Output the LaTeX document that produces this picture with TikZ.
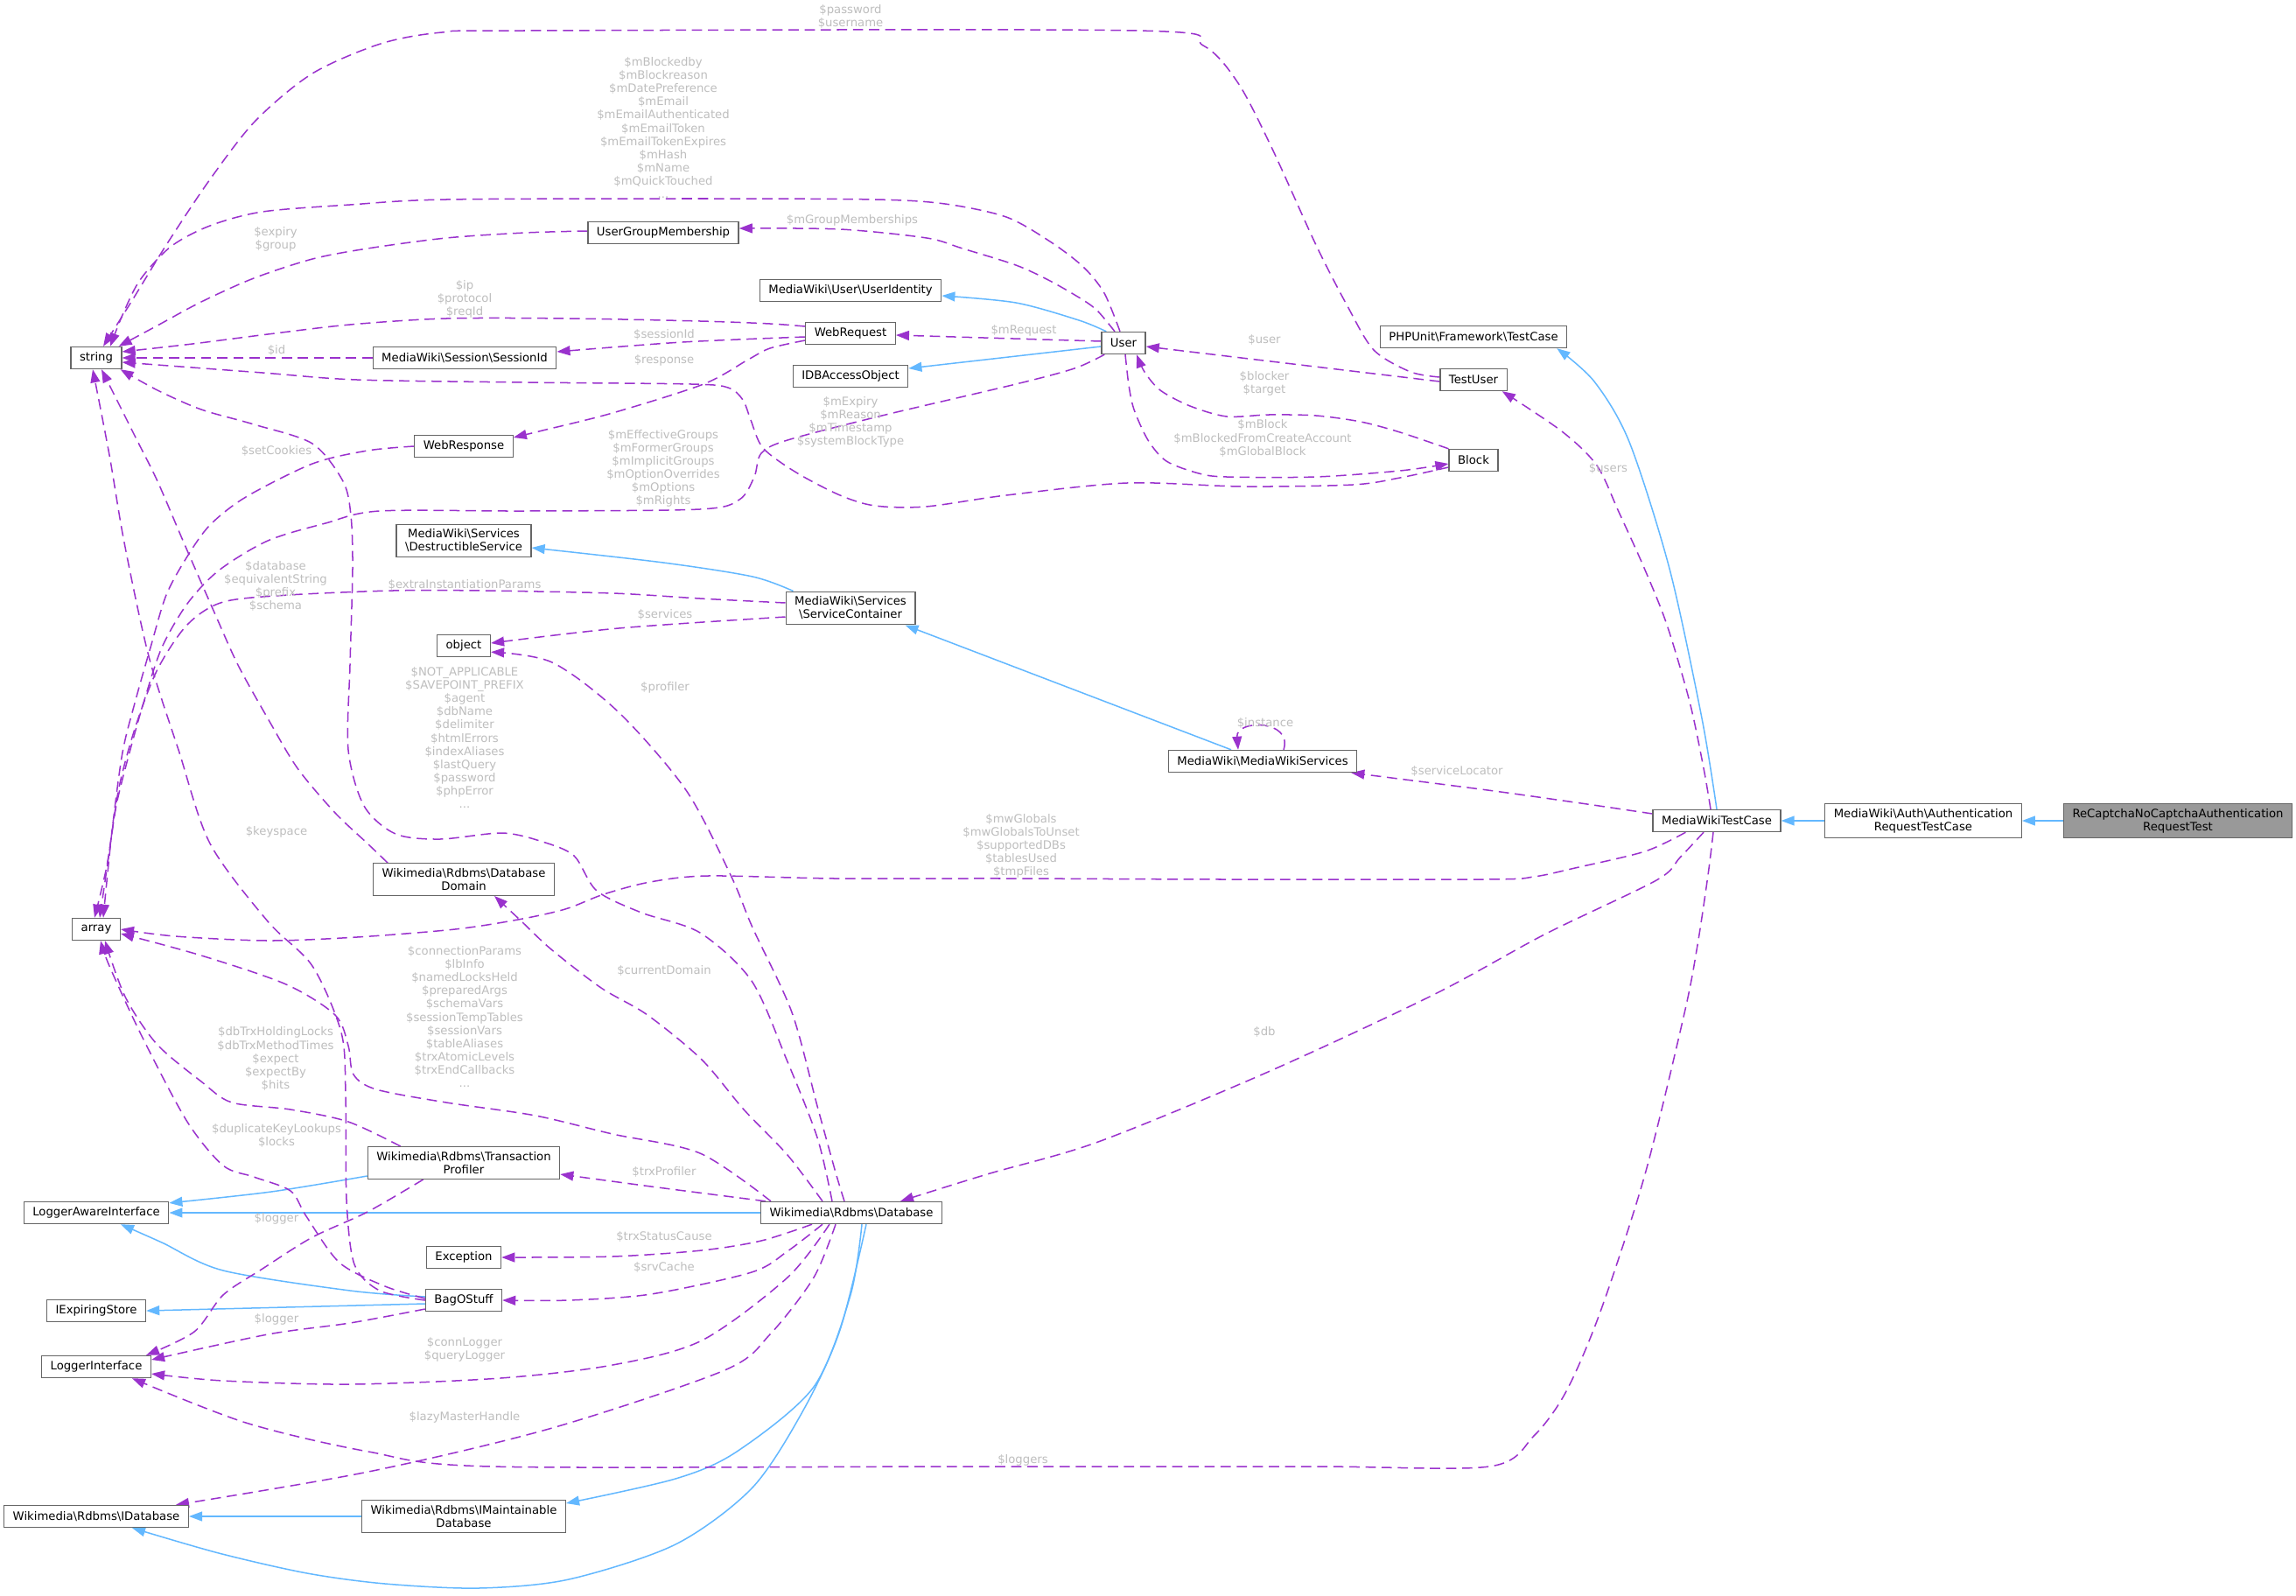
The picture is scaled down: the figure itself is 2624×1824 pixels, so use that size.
\documentclass[tikz,border=0pt]{standalone}
\usepackage{fontspec}
\setmainfont{DejaVu Sans}
\usetikzlibrary{arrows.meta,calc}
\pgfdeclarelayer{background}
\pgfsetlayers{background,main}
\definecolor{useline}{HTML}{9A32CD}
\definecolor{inhline}{HTML}{63B8FF}
\definecolor{boxline}{HTML}{666666}
\definecolor{boxgray}{HTML}{999999}
\definecolor{lblgray}{HTML}{BEBEBE}
\newcommand{\bsl}{\textbackslash{}}

\begin{document}
\begin{tikzpicture}[
  x=0.5976pt, y=-0.5976pt,
  cls/.style={draw=boxline, fill=white, line width=0.75pt, font=\fontsize{7.9}{9}\selectfont, align=center, inner xsep=6pt, inner ysep=3.4pt, minimum height=15pt},
  clsmain/.style={cls, fill=boxgray},
  lbl/.style={font=\fontsize{7.9}{9}\selectfont, text=lblgray, align=center, inner sep=0pt},
  use/.style={draw=useline, line width=0.9pt, dash pattern=on 7pt off 4pt, -{Triangle[length=9pt,width=6.5pt]}},
  inh/.style={draw=inhline, line width=0.9pt, -{Triangle[length=9pt,width=6.5pt]}}
]
\useasboundingbox (0,0) rectangle (2624,1824);

% classes
\node[clsmain] (recaptcha) at (2489,938) {ReCaptchaNoCaptchaAuthentication\\RequestTest};
\node[cls] (authreq) at (2198,938) {MediaWiki\bsl{}Auth\bsl{}Authentication\\RequestTestCase};
\node[cls] (mwtc) at (1962,938) {MediaWikiTestCase};
\node[cls] (phpunit) at (1684,385) {PHPUnit\bsl{}Framework\bsl{}TestCase};
\node[cls] (testuser) at (1684,434) {TestUser};
\node[cls] (block) at (1684,526) {Block};
\node[cls] (user) at (1284,392) {User};
\node[cls] (useridentity) at (972,332) {MediaWiki\bsl{}User\bsl{}UserIdentity};
\node[cls] (webrequest) at (972,381) {WebRequest};
\node[cls] (idbaccess) at (972,430) {IDBAccessObject};
\node[cls] (ugm) at (758,266) {UserGroupMembership};
\node[cls] (sessionid) at (531,409) {MediaWiki\bsl{}Session\bsl{}SessionId};
\node[cls] (webresponse) at (530,510) {WebResponse};
\node[cls] (string) at (110,409) {string};
\node[cls] (destructible) at (530,618) {MediaWiki\bsl{}Services\\\bsl{}DestructibleService};
\node[cls] (servicecontainer) at (972,695) {MediaWiki\bsl{}Services\\\bsl{}ServiceContainer};
\node[cls] (mws) at (1443,870) {MediaWiki\bsl{}MediaWikiServices};
\node[cls] (object) at (530,738) {object};
\node[cls] (dbdomain) at (530,1005) {Wikimedia\bsl{}Rdbms\bsl{}Database\\Domain};
\node[cls] (array) at (110,1062) {array};
\node[cls] (trxprofiler) at (530,1329) {Wikimedia\bsl{}Rdbms\bsl{}Transaction\\Profiler};
\node[cls] (lai) at (110,1386) {LoggerAwareInterface};
\node[cls] (database) at (973,1386) {Wikimedia\bsl{}Rdbms\bsl{}Database};
\node[cls] (exception) at (530,1437) {Exception};
\node[cls] (bagostuff) at (530,1486) {BagOStuff};
\node[cls] (iexpiring) at (110,1498) {IExpiringStore};
\node[cls] (loggerif) at (110,1562) {LoggerInterface};
\node[cls] (idatabase) at (110,1733) {Wikimedia\bsl{}Rdbms\bsl{}IDatabase};
\node[cls] (imaint) at (530,1733) {Wikimedia\bsl{}Rdbms\bsl{}IMaintainable\\Database};

\begin{pgfonlayer}{background}
\path[fill=white] (0,0) rectangle (2624,1824);
% inheritance
\draw[inh] (recaptcha.west) -- (authreq.east);
\draw[inh] (authreq.west) -- (mwtc.east);
\draw[inh] plot[smooth,tension=.5] coordinates {(mwtc.north) (1945,821) (1908,650) (1862,505) (1822,436) ($(phpunit.south east)+(-12,0)$)};
\draw[inh] plot[smooth,tension=.5] coordinates {($(user.north west)+(6,0)$) (1233,366) (1161,346) ($(useridentity.east)+(0,6)$)};
\draw[inh] ($(user.west)+(0,4)$) -- ($(idbaccess.east)+(0,-9)$);
\draw[inh] plot[smooth,tension=.5] coordinates {($(servicecontainer.north west)+(9,0)$) (860,659) (758,643) ($(destructible.east)+(0,8)$)};
\draw[inh] ($(mws.north)+(-36,0)$) -- ($(servicecontainer.south east)+(-12,0)$);
\draw[inh] plot[smooth,tension=.5] coordinates {($(trxprofiler.south west)+(0,-4)$) (310,1362) ($(lai.north east)+(0,2)$)};
\draw[inh] (database.west) -- (lai.east);
\draw[inh] plot[smooth,tension=.5] coordinates {($(bagostuff.west)+(0,-4)$) (400,1475) (255,1452) (185,1420) ($(lai.south)+(28,0)$)};
\draw[inh] ($(bagostuff.west)+(0,4)$) -- (iexpiring.east);
\draw[inh] plot[smooth,tension=.5] coordinates {($(database.south)+(12,0)$) (972,1480) (930,1585) (842,1659) (772,1690) ($(imaint.north east)+(0,4)$)};
\draw[inh] (imaint.west) -- (idatabase.east);
\draw[inh] plot[smooth,tension=.5] coordinates {($(database.south)+(17,0)$) (960,1520) (919,1610) (860,1700) (772,1765) (650,1805) (547,1815) (440,1810) (351,1798) (250,1775) ($(idatabase.south)+(41,0)$)};

% usage
\draw[use] plot[smooth,tension=.5] coordinates {($(testuser.west)+(0,-3)$) (1612,425) (1570,400) (1540,350) (1504,280) (1453,168) (1415,95) (1375,52) (1300,35) (600,35) (505,37) (435,50) (357,84) (292,138) (240,205) (190,280) (150,345) ($(string.north)+(8,0)$)};
\draw[use] plot[smooth,tension=.5] coordinates {($(user.north)+(-4,0)$) (1262,335) (1238,305) (1200,276) (1150,248) (1080,233) (1000,228) (800,227) (510,228) (400,234) (300,242) (240,258) (195,282) (160,320) (140,360) ($(string.north)+(16,0)$)};
\draw[use] plot[smooth,tension=.5] coordinates {($(ugm.west)+(0,-2)$) (600,266) (510,272) (420,284) (357,296) (290,318) (230,345) (180,372) ($(string.north east)+(-4,0)$)};
\draw[use] plot[smooth,tension=.5] coordinates {($(user.north)+(-10,0)$) (1255,356) (1238,343) (1200,321) (1161,303) (1100,284) (1059,272) (960,262) ($(ugm.east)+(0,-5)$)};
\draw[use] plot[smooth,tension=.5] coordinates {($(webrequest.west)+(0,-8)$) (880,370) (800,367) (650,364) (510,364) (400,371) (306,382) (220,393) ($(string.east)+(0,-7)$)};
\draw[use] plot[smooth,tension=.5] coordinates {($(webrequest.west)+(0,4)$) (780,391) ($(sessionid.east)+(0,-7)$)};
\draw[use] (sessionid.west) -- (string.east);
\draw[use] plot[smooth,tension=.5] coordinates {($(webrequest.west)+(0,8)$) (880,398) (855,411) (804,439) (700,472) (620,492) ($(webresponse.east)+(0,-10)$)};
\draw[use] ($(user.west)+(0,-2)$) -- ($(webrequest.east)+(0,2)$);
\draw[use] ($(testuser.west)+(0,2)$) -- ($(user.east)+(0,4)$);
\draw[use] plot[smooth,tension=.5] coordinates {(block.north west) (1600,494) (1555,482) (1504,475) (1450,474) (1402,476) (1360,464) (1326,446) (1308,425) ($(user.south)+(15,0)$)};
\draw[use] plot[smooth,tension=.5] coordinates {($(user.south)+(2,0)$) (1290,440) (1296,468) (1312,503) (1333,527) (1370,541) (1402,545) (1504,545) (1600,538) ($(block.west)+(0,4)$)};
\draw[use] plot[smooth,tension=.5] coordinates {($(block.west)+(0,8)$) (1600,546) (1546,554) (1420,556) (1288,552) (1150,566) (1058,579) (1000,578) (960,566) (910,540) (872,512) (858,480) (849,457) (832,443) (790,439) (600,437) (408,434) (300,426) ($(string.east)+(0,5)$)};
\draw[use] plot[smooth,tension=.5] coordinates {($(user.south west)+(4,0)$) (1228,421) (1161,439) (1008,475) (900,503) (870,518) (862,545) (845,571) (800,582) (600,584) (434,584) (372,598) (306,618) (250,652) (214,690) (185,740) (165,800) (148,860) (133,920) (122,990) ($(array.north)+(-2,0)$)};
\draw[use] plot[smooth,tension=.5] coordinates {($(servicecontainer.west)+(0,-6)$) (800,684) (700,678) (550,675) (449,675) (330,680) (255,688) (214,714) (180,765) (155,830) (136,900) (124,980) ($(array.north)+(4,0)$)};
\draw[use] plot[smooth,tension=.5] coordinates {(webresponse.west) (420,515) (357,530) (281,568) (240,600) (214,636) (190,680) (172,740) (155,800) (140,860) (128,950) ($(array.north)+(8,0)$)};
\draw[use] plot[smooth,tension=.5] coordinates {($(dbdomain.north west)+(17,0)$) (420,964) (383,929) (340,878) (306,821) (272,760) (245,700) (210,620) (180,550) (155,500) (135,460) ($(string.south)+(6,0)$)};
\draw[use] plot[smooth,tension=.5] coordinates {(bagostuff.west) (434,1475) (405,1445) (396,1371) (395,1250) (390,1180) (357,1104) (306,1053) (240,964) (204,857) (170,750) (142,620) (125,520) ($(string.south)+(-4,0)$)};
\draw[use] plot[smooth,tension=.5] coordinates {($(database.north)+(-22,0)$) (934,1300) (899,1211) (859,1121) (800,1066) (733,1043) (682,1018) (656,978) (620,962) (574,952) (503,959) (452,953) (416,921) (398,857) (400,760) (403,650) (401,589) (392,550) (357,507) (290,485) (230,468) (180,446) ($(string.south east)+(-2,0)$)};
\draw[use] plot[smooth,tension=.5] coordinates {($(servicecontainer.west)+(0,10)$) (707,718) ($(object.east)+(0,-3)$)};
\draw[use] plot[smooth,tension=.5] coordinates {($(database.north)+(-8,0)$) (955,1340) (934,1264) (905,1157) (860,1060) (835,1000) (784,903) (707,814) (631,757) ($(object.south east)+(0,-6)$)};
\draw[use] plot[smooth,tension=.5] coordinates {($(database.north)+(-33,0)$) (900,1320) (850,1268) (802,1211) (740,1160) (687,1129) (630,1085) (595,1052) ($(dbdomain.south)+(35,0)$)};
\draw[use] plot[smooth,tension=.5] coordinates {($(database.north west)+(12,0)$) (800,1318) (700,1296) (612,1275) (510,1260) (430,1245) (404,1228) (398,1195) (383,1160) (327,1125) (230,1092) ($(array.east)+(0,5)$)};
\draw[use] plot[smooth,tension=.5] coordinates {($(mwtc.south west)+(38,0)$) (1880,973) (1800,992) (1753,1002) (1700,1005) (1400,1005) (1150,1004) (954,1004) (809,1001) (743,1008) (690,1022) (646,1039) (592,1051) (520,1062) (408,1071) (306,1075) (200,1070) (array.east)};
\draw[use] plot[smooth,tension=.5] coordinates {($(mwtc.west)+(0,-8)$) (1800,917) (1700,903) ($(mws.south east)+(-7,0)$)};
\draw[use] plot[smooth,tension=.5] coordinates {($(mwtc.south)+(-15,0)$) (1920,980) (1893,1006) (1765,1068) (1638,1137) (1447,1226) (1255,1305) (1128,1342) ($(database.north east)+(-48,0)$)};
\draw[use] plot[smooth,tension=.5] coordinates {($(mwtc.south)+(-4,0)$) (1952,1000) (1940,1080) (1925,1158) (1880,1342) (1829,1499) (1790,1590) (1753,1641) (1702,1676) (1500,1676) (1100,1676) (561,1676) (421,1659) (281,1626) ($(loggerif.south)+(41,0)$)};
\draw[use] plot[smooth,tension=.5] coordinates {($(mwtc.north)+(-7,0)$) (1947,878) (1931,802) (1905,714) (1879,649) (1850,585) (1825,532) (1785,493) ($(testuser.south east)+(-6,0)$)};
\draw[use] ($(mws.north)+(24,0)$) .. controls (1478,822) and (1412,822) .. ($(mws.north)+(-28,0)$);
\draw[use] plot[smooth,tension=.5] coordinates {($(database.north west)+(6,0)$) (744,1356) ($(trxprofiler.east)+(0,13)$)};
\draw[use] plot[smooth,tension=.5] coordinates {($(trxprofiler.north west)+(38,0)$) (398,1282) (332,1268) (265,1260) (230,1236) (179,1193) (143,1139) ($(array.south)+(10,0)$)};
\draw[use] plot[smooth,tension=.5] coordinates {($(bagostuff.west)+(0,-2)$) (440,1470) (388,1443) (350,1390) (332,1361) (290,1345) (255,1332) (214,1282) (163,1186) (125,1104) ($(array.south)+(5,0)$)};
\draw[use] plot[smooth,tension=.5] coordinates {($(trxprofiler.south west)+(64,0)$) (420,1385) (357,1414) (300,1450) (255,1480) (222,1522) ($(loggerif.north east)+(-6,0)$)};
\draw[use] plot[smooth,tension=.5] coordinates {($(bagostuff.west)+(0,10)$) (400,1512) (306,1525) ($(loggerif.east)+(0,-8)$)};
\draw[use] plot[smooth,tension=.5] coordinates {($(database.south)+(-45,0)$) (870,1418) (802,1429) (700,1436) (exception.east)};
\draw[use] plot[smooth,tension=.5] coordinates {($(database.south)+(-33,0)$) (900,1430) (859,1454) (744,1479) (650,1486) (bagostuff.east)};
\draw[use] plot[smooth,tension=.5] coordinates {($(database.south)+(-25,0)$) (900,1460) (802,1532) (700,1560) (572,1575) (400,1582) (255,1578) ($(loggerif.east)+(0,8)$)};
\draw[use] plot[smooth,tension=.5] coordinates {($(database.south)+(-18,0)$) (930,1460) (880,1525) (828,1566) (631,1632) (421,1682) ($(idatabase.north east)+(-15,0)$)};
\end{pgfonlayer}

% member labels
\node[lbl] (lpassword) at (972,19) {\$password\\\$username};
\node[lbl] (lusermembers) at (758,146) {\$mBlockedby\\\$mBlockreason\\\$mDatePreference\\\$mEmail\\\$mEmailAuthenticated\\\$mEmailToken\\\$mEmailTokenExpires\\\$mHash\\\$mName\\\$mQuickTouched\\...};
\node[lbl] (lexpiry) at (315,273) {\$expiry\\\$group};
\node[lbl] (lgroupmem) at (974,252) {\$mGroupMemberships};
\node[lbl] (lip) at (531,342) {\$ip\\\$protocol\\\$reqId};
\node[lbl] (lsessionid) at (759,382) {\$sessionId};
\node[lbl] (lid) at (316,400) {\$id};
\node[lbl] (lresponse) at (759,412) {\$response};
\node[lbl] (lrequest) at (1170,378) {\$mRequest};
\node[lbl] (luser) at (1445,388) {\$user};
\node[lbl] (lblocker) at (1445,438) {\$blocker\\\$target};
\node[lbl] (lmblock) at (1443,501) {\$mBlock\\\$mBlockedFromCreateAccount\\\$mGlobalBlock};
\node[lbl] (lmexpiry) at (972,482) {\$mExpiry\\\$mReason\\\$mTimestamp\\\$systemBlockType};
\node[lbl] (lgroups) at (758,535) {\$mEffectiveGroups\\\$mFormerGroups\\\$mImplicitGroups\\\$mOptionOverrides\\\$mOptions\\\$mRights};
\node[lbl] (lcookies) at (316,515) {\$setCookies};
\node[lbl] (ldatabase) at (315,670) {\$database\\\$equivalentString\\\$prefix\\\$schema};
\node[lbl] (lextra) at (531,668) {\$extraInstantiationParams};
\node[lbl] (lservices) at (760,702) {\$services};
\node[lbl] (lprofiler) at (760,786) {\$profiler};
\node[lbl] (lconsts) at (531,843) {\$NOT\_APPLICABLE\\\$SAVEPOINT\_PREFIX\\\$agent\\\$dbName\\\$delimiter\\\$htmlErrors\\\$indexAliases\\\$lastQuery\\\$password\\\$phpError\\...};
\node[lbl] (lkeyspace) at (316,951) {\$keyspace};
\node[lbl] (linstance) at (1446,826) {\$instance};
\node[lbl] (lservloc) at (1665,881) {\$serviceLocator};
\node[lbl] (lusers) at (1838,535) {\$users};
\node[lbl] (lglobals) at (1167,967) {\$mwGlobals\\\$mwGlobalsToUnset\\\$supportedDBs\\\$tablesUsed\\\$tmpFiles};
\node[lbl] (lconnparams) at (531,1162) {\$connectionParams\\\$lbInfo\\\$namedLocksHeld\\\$preparedArgs\\\$schemaVars\\\$sessionTempTables\\\$sessionVars\\\$tableAliases\\\$trxAtomicLevels\\\$trxEndCallbacks\\...};
\node[lbl] (lcurdomain) at (759,1109) {\$currentDomain};
\node[lbl] (ldb) at (1445,1179) {\$db};
\node[lbl] (ltrxlocks) at (315,1210) {\$dbTrxHoldingLocks\\\$dbTrxMethodTimes\\\$expect\\\$expectBy\\\$hits};
\node[lbl] (ldupkey) at (316,1298) {\$duplicateKeyLookups\\\$locks};
\node[lbl] (ltrxprof) at (759,1339) {\$trxProfiler};
\node[lbl] (llogger) at (316,1393) {\$logger};
\node[lbl] (ltrxstatus) at (759,1413) {\$trxStatusCause};
\node[lbl] (lsrvcache) at (759,1448) {\$srvCache};
\node[lbl] (lloggerb) at (316,1508) {\$logger};
\node[lbl] (lconnlog) at (531,1542) {\$connLogger\\\$queryLogger};
\node[lbl] (llazy) at (531,1620) {\$lazyMasterHandle};
\node[lbl] (lloggers) at (1169,1669) {\$loggers};
\end{tikzpicture}
\end{document}
